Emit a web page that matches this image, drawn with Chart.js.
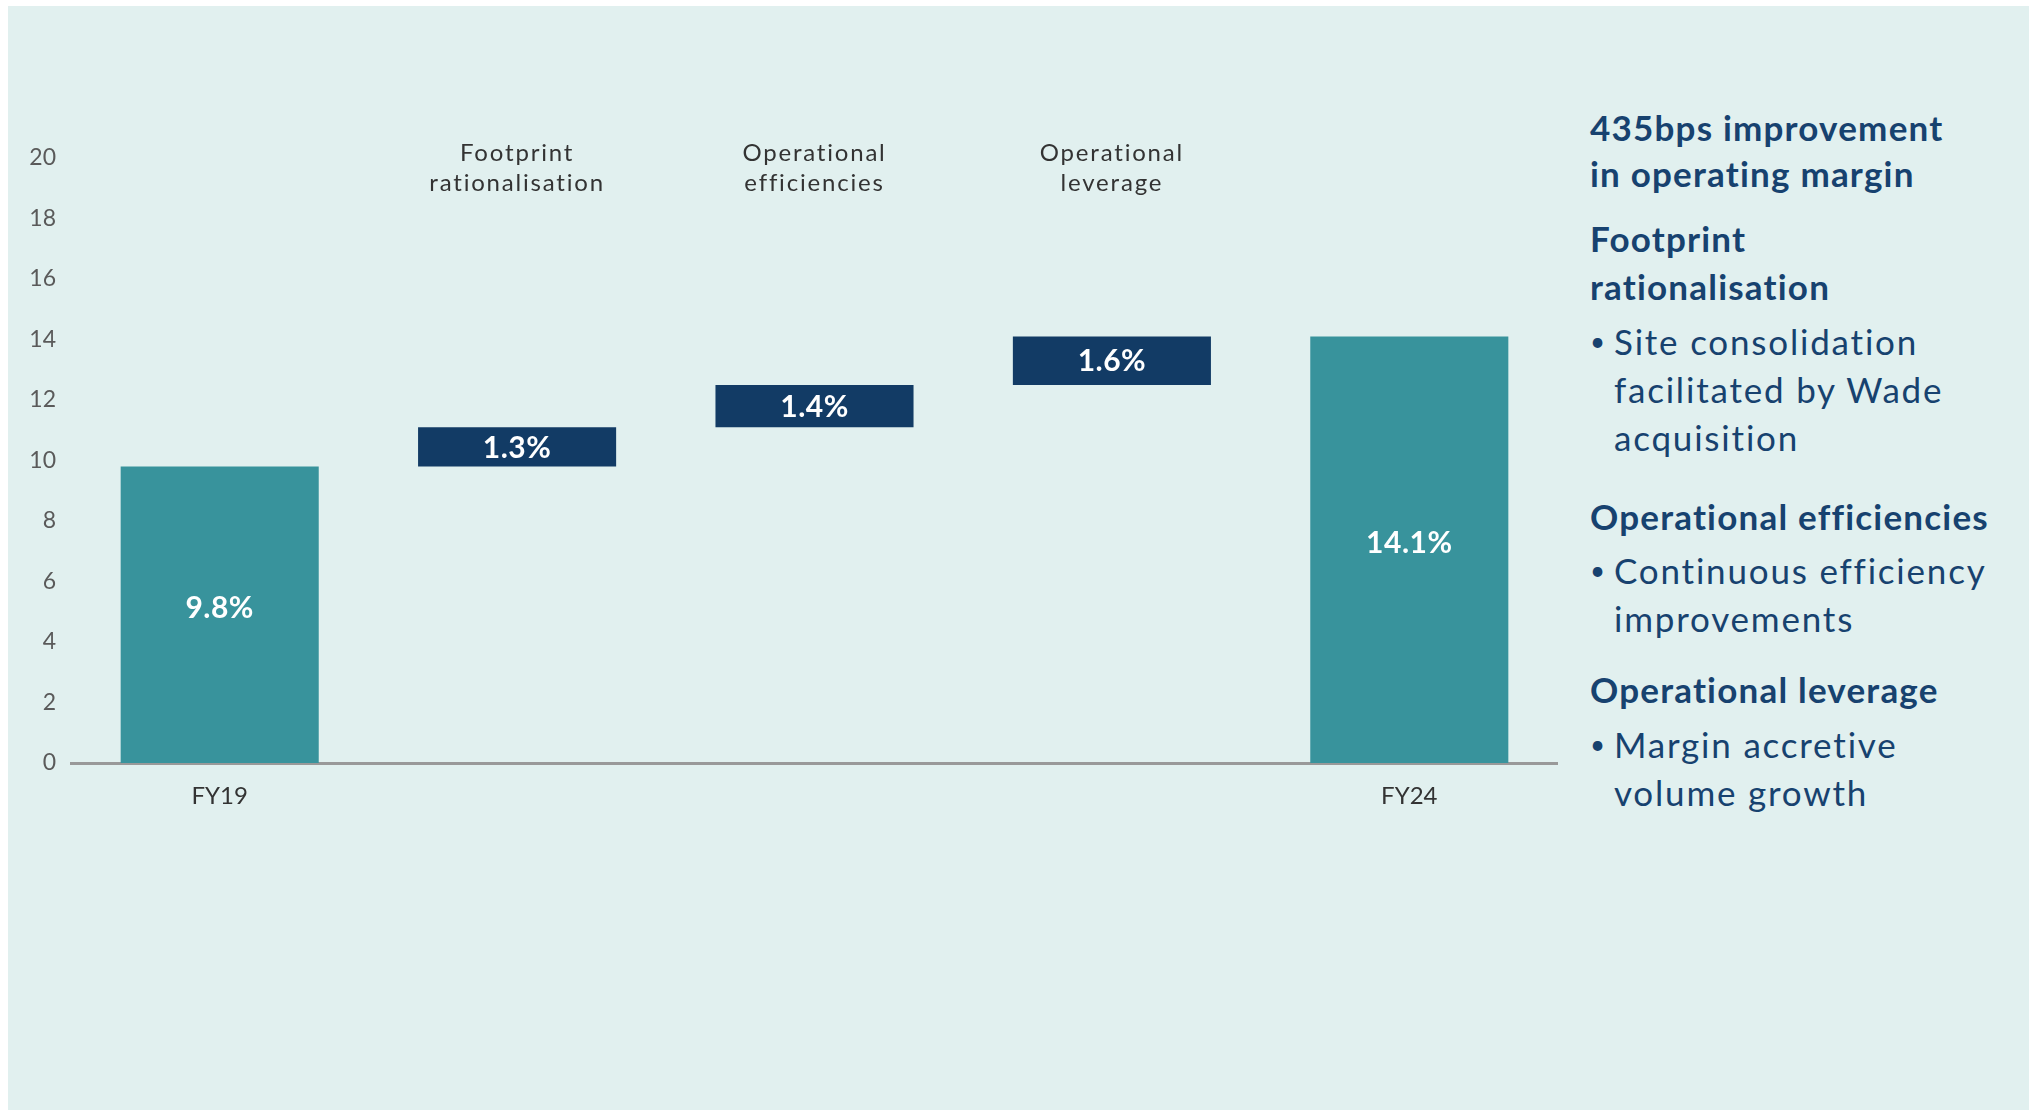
<!DOCTYPE html>
<html lang="en">
<head>
    <meta charset="UTF-8">
    <title>Operating margin bridge FY19 to FY24</title>
    <script src="https://cdn.jsdelivr.net/npm/chart.js"></script>
    <style>
        body {
            margin: 0;
            background: #ffffff;
            font-family: Lato, sans-serif;
        }
        .panel {
            position: absolute;
            left: 8px;
            top: 6px;
            width: 2021px;
            height: 1104px;
            background: #e1f0ef;
        }
        .chart-box {
            position: absolute;
            left: 0;
            top: 0;
            width: 1558px;
            height: 823px;
        }
        .notes {
            position: absolute;
            left: 1590px;
            top: 0;
            width: 440px;
            color: #17426f;
            font-size: 35px;
            line-height: 48px;
            letter-spacing: 1.8px;
        }
        .notes div {
            position: absolute;
            left: 0;
            white-space: nowrap;
        }
        .notes .head {
            font-weight: 700;
            letter-spacing: 1.2px;
        }
        .notes .bullet {
            padding-left: 24px;
        }
        .notes .bullet::before {
            content: "\2022";
            position: absolute;
            left: 0;
            font-size: 26px;
        }
    </style>
</head>
<body>
    <div class="panel"></div>
    <div class="chart-box"><canvas id="marginChart"></canvas></div>

    <div class="notes">
        <div class="head" style="top:104px; line-height:46px;">435bps improvement<br>in operating margin</div>
        <div class="head" style="top:214px;">Footprint<br>rationalisation</div>
        <div class="bullet" style="top:317px;">Site consolidation<br>facilitated by Wade<br>acquisition</div>
        <div class="head" style="top:492px;">Operational efficiencies</div>
        <div class="bullet" style="top:546px;">Continuous efficiency<br>improvements</div>
        <div class="head" style="top:665px;">Operational leverage</div>
        <div class="bullet" style="top:720px;">Margin accretive<br>volume growth</div>
    </div>

    <script>
        // bridge data (operating margin, %)
        const categories = ["FY19", "Footprint rationalisation", "Operational efficiencies", "Operational leverage", "FY24"];
        const topLabels = [[], ["Footprint", "rationalisation"], ["Operational", "efficiencies"], ["Operational", "leverage"], []];
        const values = [9.8, 1.3, 1.4, 1.6, 14.1];
        const isTotal = [true, false, false, false, true];
        const valueLabels = ["9.8%", "1.3%", "1.4%", "1.6%", "14.1%"];
        const yTicks = [0, 2, 4, 6, 8, 10, 12, 14, 16, 18, 20];

        const TEAL = "#38939c";
        const NAVY = "#123b65";

        // floating ranges: totals start at zero, steps stack on the running total
        let running = 0;
        const ranges = values.map((v, i) => {
            if (isTotal[i]) {
                running = v;
                return [0, v];
            }
            const r = [running, running + v];
            running += v;
            return r;
        });

        const barLabels = {
            id: "barLabels",
            afterDatasetsDraw(chart) {
                const ctx = chart.ctx;
                const meta = chart.getDatasetMeta(0);
                ctx.save();
                ctx.fillStyle = "#ffffff";
                ctx.font = "bold 30px Lato";
                ctx.letterSpacing = "0.5px";
                ctx.textAlign = "center";
                ctx.textBaseline = "middle";
                meta.data.forEach((bar, i) => {
                    // the tall totals sit their label a little above the middle
                    const shift = isTotal[i] ? -6 : 1;
                    ctx.fillText(valueLabels[i], bar.x, (bar.y + bar.base) / 2 + shift);
                });
                ctx.restore();
            }
        };

        const stepTitles = {
            id: "stepTitles",
            afterDraw(chart) {
                const ctx = chart.ctx;
                const x = chart.scales.x;
                const top = chart.chartArea.top;
                ctx.save();
                ctx.fillStyle = "#333333";
                ctx.font = "24px Lato";
                ctx.letterSpacing = "1.8px";
                ctx.textAlign = "center";
                ctx.textBaseline = "alphabetic";
                topLabels.forEach((lines, i) => {
                    lines.forEach((line, j) => {
                        ctx.fillText(line, x.getPixelForValue(i), top + 3 + j * 30);
                    });
                });
                ctx.restore();
            }
        };

        const ctx = document.getElementById("marginChart").getContext("2d");
        new Chart(ctx, {
            type: "bar",
            data: {
                labels: categories,
                datasets: [{
                    data: ranges,
                    backgroundColor: isTotal.map(t => t ? TEAL : NAVY),
                    borderWidth: 0,
                    categoryPercentage: 1,
                    barPercentage: 0.666
                }]
            },
            options: {
                responsive: true,
                maintainAspectRatio: false,
                animation: false,
                layout: { padding: { top: 158, left: 0, right: 0, bottom: 0 } },
                plugins: {
                    legend: { display: false },
                    tooltip: { enabled: false }
                },
                scales: {
                    x: {
                        z: 1,
                        grid: { display: false, drawTicks: false },
                        border: { display: true, color: "#999999", width: 3 },
                        ticks: {
                            autoSkip: false,
                            maxRotation: 0,
                            padding: 19,
                            color: "#333333",
                            font: { family: "Lato", size: 24 },
                            callback: (v, i) => isTotal[i] ? categories[i] : ""
                        },
                        afterFit: s => { s.height = 60; }
                    },
                    y: {
                        min: 0,
                        max: 20,
                        grid: { display: false, drawTicks: false },
                        border: { display: false },
                        afterBuildTicks: s => { s.ticks = yTicks.map(v => ({ value: v })); },
                        ticks: {
                            padding: 15,
                            color: "#5a5a5a",
                            font: { family: "Lato", size: 23 }
                        },
                        afterFit: s => { s.width = 71; }
                    }
                }
            },
            plugins: [barLabels, stepTitles]
        });
    </script>
</body>
</html>
